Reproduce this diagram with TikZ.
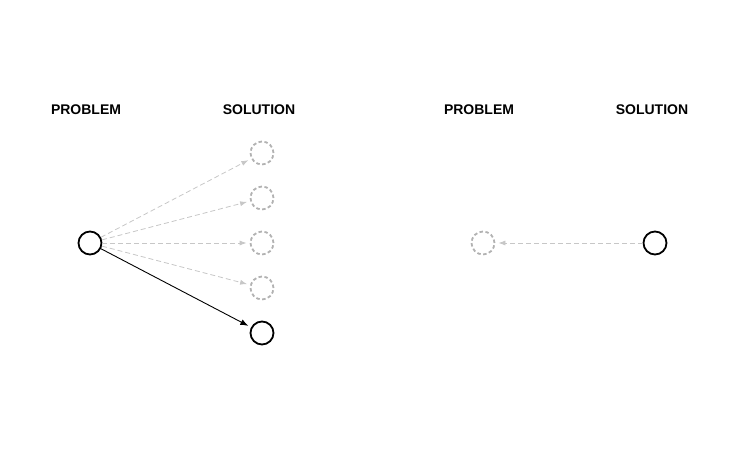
\documentclass[tikz,border=0pt]{standalone}
\usepackage{fontspec}
\setmainfont{Liberation Sans}
\usetikzlibrary{arrows.meta}
\begin{document}
\begin{tikzpicture}[x=1pt,y=-1pt,
  lbl/.style={font=\bfseries\fontsize{14}{16}\selectfont},
  solid circ/.style={circle,draw=black,line width=1.8pt,minimum size=23pt,inner sep=0pt},
  ghost/.style={circle,draw=black!30,dashed,dash pattern=on 3.5pt off 2.5pt,line width=1.8pt,minimum size=23pt,inner sep=0pt},
  garr/.style={draw=black!22,dashed,dash pattern=on 5pt off 3pt,line width=0.8pt,-{Latex[length=7pt,width=5pt]},shorten >=3pt},
  barr/.style={draw=black,line width=0.9pt,-{Latex[length=8pt,width=6pt]},shorten >=3pt}]
\useasboundingbox (0,0) rectangle (750,460);
\node[lbl] (p1) at (86,110) {PROBLEM};
\node[lbl] (s1) at (259,110) {SOLUTION};
\node[lbl] (p2) at (479,110) {PROBLEM};
\node[lbl] (s2) at (652,110) {SOLUTION};
\node[solid circ] (a) at (90,243) {};
\node[ghost] (g1) at (262,153) {};
\node[ghost] (g2) at (262,198) {};
\node[ghost] (g3) at (262,243) {};
\node[ghost] (g4) at (262,288) {};
\node[solid circ] (b) at (262,333) {};
\draw[garr] (a) -- (g1);
\draw[garr] (a) -- (g2);
\draw[garr] (a) -- (g3);
\draw[garr] (a) -- (g4);
\draw[barr] (a) -- (b);
\node[ghost] (c) at (483,243) {};
\node[solid circ] (d) at (655,243) {};
\draw[garr] (d) -- (c);
\end{tikzpicture}
\end{document}
